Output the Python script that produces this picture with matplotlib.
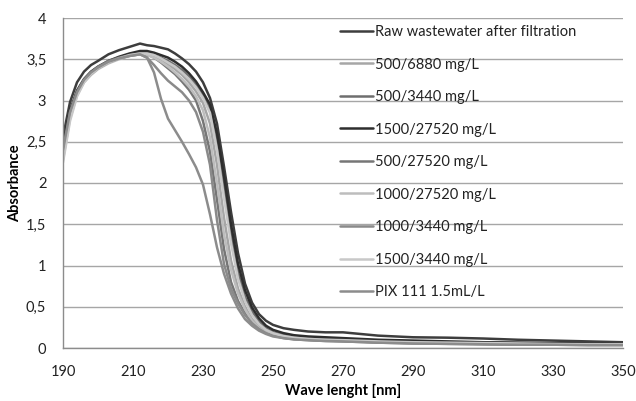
import matplotlib
matplotlib.use("Agg")
import matplotlib.pyplot as plt
from matplotlib.ticker import FuncFormatter

wavelength = [190, 192, 194, 196, 198, 200, 203, 206, 209, 212, 214, 216, 218, 220, 222, 224,
              226, 228, 230, 232, 234, 236, 238, 240, 242, 244, 246, 248, 250, 253, 256, 260,
              265, 270, 280, 290, 300, 310, 320, 330, 340, 350]

raw = [2.56, 2.98, 3.22, 3.35, 3.43, 3.48, 3.56, 3.61, 3.65, 3.69, 3.67, 3.66, 3.64, 3.62, 3.57, 3.51,
       3.44, 3.35, 3.22, 3.03, 2.72, 2.20, 1.65, 1.15, 0.78, 0.55, 0.41, 0.33, 0.28, 0.24, 0.22, 0.20,
       0.19, 0.19, 0.15, 0.13, 0.125, 0.115, 0.10, 0.09, 0.08, 0.07]
s500_6880 = [2.30, 2.80, 3.08, 3.24, 3.33, 3.40, 3.47, 3.52, 3.56, 3.58, 3.57, 3.54, 3.50, 3.44, 3.38, 3.31,
             3.22, 3.11, 2.97, 2.72, 2.22, 1.58, 1.06, 0.72, 0.50, 0.35, 0.26, 0.20, 0.165, 0.135, 0.115, 0.105,
             0.095, 0.09, 0.075, 0.065, 0.06, 0.055, 0.05, 0.045, 0.045, 0.04]
s500_3440 = [2.40, 2.85, 3.10, 3.24, 3.33, 3.40, 3.47, 3.52, 3.56, 3.58, 3.58, 3.55, 3.52, 3.48, 3.43, 3.37,
             3.29, 3.19, 3.07, 2.90, 2.50, 1.95, 1.38, 0.92, 0.62, 0.44, 0.32, 0.24, 0.19, 0.155, 0.135, 0.12,
             0.11, 0.105, 0.09, 0.08, 0.07, 0.065, 0.06, 0.055, 0.05, 0.05]
s1500_27520 = [2.45, 2.88, 3.12, 3.26, 3.35, 3.41, 3.48, 3.53, 3.57, 3.60, 3.60, 3.58, 3.55, 3.52, 3.47, 3.41,
               3.33, 3.23, 3.10, 2.95, 2.60, 2.08, 1.50, 1.02, 0.70, 0.49, 0.36, 0.27, 0.22, 0.18, 0.155, 0.14,
               0.13, 0.12, 0.10, 0.09, 0.08, 0.07, 0.065, 0.06, 0.055, 0.05]
s500_27520 = [2.38, 2.85, 3.10, 3.25, 3.34, 3.41, 3.48, 3.52, 3.55, 3.57, 3.56, 3.52, 3.46, 3.39, 3.32, 3.23,
              3.13, 3.00, 2.75, 2.38, 1.80, 1.20, 0.80, 0.57, 0.42, 0.31, 0.24, 0.19, 0.155, 0.125, 0.11, 0.10,
              0.09, 0.085, 0.07, 0.06, 0.055, 0.05, 0.045, 0.04, 0.04, 0.04]
s1000_27520 = [2.28, 2.78, 3.06, 3.22, 3.31, 3.38, 3.45, 3.50, 3.54, 3.56, 3.55, 3.52, 3.47, 3.41, 3.34, 3.26,
               3.17, 3.05, 2.88, 2.55, 2.00, 1.38, 0.95, 0.66, 0.47, 0.33, 0.245, 0.19, 0.155, 0.125, 0.11, 0.10,
               0.09, 0.085, 0.07, 0.06, 0.055, 0.05, 0.045, 0.045, 0.04, 0.04]
s1000_3440 = [2.35, 2.82, 3.08, 3.23, 3.32, 3.39, 3.46, 3.51, 3.54, 3.56, 3.52, 3.43, 3.33, 3.24, 3.17, 3.10,
              3.00, 2.86, 2.62, 2.22, 1.55, 1.02, 0.72, 0.54, 0.40, 0.30, 0.23, 0.18, 0.15, 0.12, 0.105, 0.095,
              0.085, 0.08, 0.065, 0.055, 0.05, 0.045, 0.04, 0.04, 0.035, 0.035]
s1500_3440 = [2.25, 2.75, 3.05, 3.22, 3.32, 3.39, 3.46, 3.51, 3.55, 3.57, 3.57, 3.55, 3.51, 3.46, 3.41, 3.34,
              3.26, 3.16, 3.03, 2.85, 2.40, 1.82, 1.27, 0.84, 0.57, 0.40, 0.29, 0.22, 0.18, 0.145, 0.125, 0.11,
              0.10, 0.095, 0.08, 0.07, 0.065, 0.06, 0.055, 0.05, 0.045, 0.045]
pix111 = [2.40, 2.86, 3.10, 3.25, 3.34, 3.40, 3.47, 3.51, 3.54, 3.56, 3.52, 3.34, 3.02, 2.78, 2.64, 2.50,
          2.35, 2.19, 1.98, 1.62, 1.22, 0.90, 0.66, 0.48, 0.35, 0.27, 0.21, 0.17, 0.14, 0.12, 0.105, 0.095,
          0.085, 0.08, 0.065, 0.055, 0.05, 0.045, 0.04, 0.04, 0.035, 0.035]

labels = ["Raw wastewater after filtration", "500/6880 mg/L", "500/3440 mg/L", "1500/27520 mg/L",
          "500/27520 mg/L", "1000/27520 mg/L", "1000/3440 mg/L", "1500/3440 mg/L", "PIX 111 1.5mL/L"]
series = [raw, s500_6880, s500_3440, s1500_27520, s500_27520, s1000_27520, s1000_3440, s1500_3440, pix111]
colors = ["#3d3d3d", "#a6a6a6", "#6e6e6e", "#2e2e2e", "#767676", "#bdbdbd", "#8a8a8a", "#c8c8c8", "#8c8c8c"]

x_ticks = [190, 210, 230, 250, 270, 290, 310, 330, 350]
y_ticks = [0, 0.5, 1, 1.5, 2, 2.5, 3, 3.5, 4]

plt.rcParams['font.family'] = ['Lato', 'DejaVu Sans']

fig = plt.figure(figsize=(6.36, 4.01), dpi=100)
ax = fig.add_axes([63/636, 1-348/401, (623-63)/636, (348-18)/401])

for vals, lab, col in zip(series, labels, colors):
    ax.plot(wavelength, vals, color=col, lw=1.8, label=lab,
            solid_capstyle='round', solid_joinstyle='round')

ax.set_xlim(190, 350)
ax.set_ylim(0, 4)
ax.set_xticks(x_ticks)
ax.set_yticks(y_ticks)
ax.yaxis.set_major_formatter(FuncFormatter(lambda v, p: ("%g" % v).replace('.', ',')))
ax.grid(axis='y', color='#a6a6a6', lw=1.0)
ax.set_axisbelow(True)
for s in ['top', 'right']:
    ax.spines[s].set_visible(False)
for s in ['left', 'bottom']:
    ax.spines[s].set_color('#8c8c8c')
    ax.spines[s].set_linewidth(1.0)
ax.tick_params(length=0, labelsize=10.5, colors='#222222')
ax.tick_params(axis='y', pad=12)
ax.tick_params(axis='x', pad=12)

ax.set_xlabel("Wave lenght [nm]", fontsize=10.5, fontweight='bold', labelpad=4)
ax.set_ylabel("Absorbance", fontsize=10.5, fontweight='bold', labelpad=3)

leg = ax.legend(loc='upper left', bbox_to_anchor=(340/636, 1-25/401), bbox_transform=fig.transFigure,
                frameon=False, fontsize=10.5, handlelength=2.25, handletextpad=0.15,
                labelspacing=1.27, borderpad=0, borderaxespad=0)
for t in leg.get_texts():
    t.set_color('#222222')

fig.savefig("out.png", dpi=100)
